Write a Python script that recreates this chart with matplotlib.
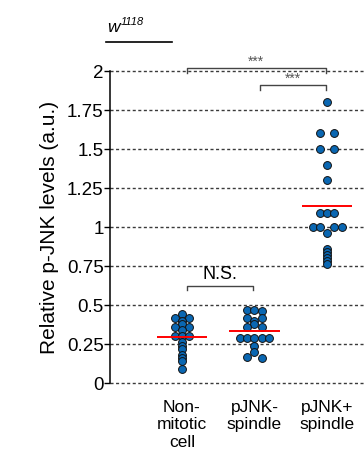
import numpy as np
import matplotlib
matplotlib.use('Agg')
import matplotlib.pyplot as plt

plt.rcParams['font.family'] = ['Liberation Sans', 'DejaVu Sans']

# data (relative p-JNK levels, a.u.)
categories = ['Non-\nmitotic\ncell', 'pJNK-\nspindle', 'pJNK+\nspindle']
non_mitotic = [0.44, 0.42, 0.42, 0.40, 0.38, 0.36, 0.36, 0.34, 0.30, 0.30, 0.30,
               0.26, 0.24, 0.22, 0.18, 0.16, 0.14, 0.09]
pjnk_neg = [0.47, 0.47, 0.46, 0.42, 0.42, 0.40, 0.38, 0.36, 0.36,
            0.29, 0.29, 0.29, 0.29, 0.29, 0.24, 0.20, 0.17, 0.16]
pjnk_pos = [1.80, 1.60, 1.60, 1.50, 1.50, 1.40, 1.30, 1.09, 1.09, 1.09,
            1.00, 1.00, 1.00, 1.00, 0.963, 0.86, 0.84, 0.82, 0.80, 0.78, 0.76]
groups = [non_mitotic, pjnk_neg, pjnk_pos]
yticks = [0, 0.25, 0.5, 0.75, 1, 1.25, 1.5, 1.75, 2]
yticklabels = ['0', '0.25', '0.5', '0.75', '1', '1.25', '1.5', '1.75', '2']
# comparisons: (group a, group b, label)
comparisons = [(0, 2, '***'), (1, 2, '***'), (0, 1, 'N.S.')]


def swarm_offsets(vals, w=0.02, d=0.1):
    # prism-like scatter: bin values, spread each bin sideways
    vals = np.asarray(vals)
    bins = np.round(vals / w).astype(int)
    offs = np.zeros(len(vals))
    for b in np.unique(bins):
        idx = np.where(bins == b)[0]
        n = len(idx)
        if n % 2:
            slots = np.arange(n) - (n - 1) / 2
        else:
            k = n // 2
            slots = np.r_[np.arange(-k, 0), np.arange(1, k + 1)]
        offs[idx] = slots * d
    return offs


fig = plt.figure(figsize=(3.64, 4.66), dpi=100)
ax = fig.add_axes([0.302, 0.178, 0.698, 0.6695])

for i, vals in enumerate(groups):
    xs = i + swarm_offsets(vals)
    ax.scatter(xs, vals, s=32, c='#0a67b2', edgecolors='#111111',
               linewidths=0.7, zorder=3)
    m = np.mean(vals)
    ax.hlines(m, i - 0.35, i + 0.35, color='#ff0000', lw=1.4, zorder=4)

ax.set_xlim(-0.993, 2.51)
ax.set_ylim(0, 2)
ax.set_yticks(yticks)
ax.set_yticklabels(yticklabels, fontsize=13.5)
for y in yticks:
    ax.axhline(y, color='#3a3a3a', lw=1, ls=(0, (2.2, 1.8)), zorder=1,
               clip_on=False)
ax.set_xticks(range(len(categories)))
ax.set_xticklabels(categories, fontsize=12.5, linespacing=1.2)
ax.tick_params(axis='x', length=0, pad=12)
ax.tick_params(axis='y', length=4, width=1, pad=0.5)
for s in ['top', 'right', 'bottom']:
    ax.spines[s].set_visible(False)
ax.spines['left'].set_linewidth(1.1)
ax.set_ylabel('Relative p-JNK levels (a.u.)', fontsize=15, labelpad=6)

# significance brackets
tops = [2.02, 1.91, 0.624]
for (a, b, lab), top in zip(comparisons, tops):
    x0, x1 = a + 0.07, b - 0.02
    ax.plot([x0, x0, x1, x1], [top - 0.03, top, top, top - 0.03],
            color='#444444', lw=1, clip_on=False, zorder=2)
    if lab == 'N.S.':
        ax.text((x0 + x1) / 2, top + 0.02, lab, ha='center', va='bottom',
                fontsize=13)
    else:
        ax.text((x0 + x1) / 2, top - 0.005, lab, ha='center', va='bottom',
                fontsize=10, color='#555555', clip_on=False, zorder=5)

# genotype label with underline
fig.text(0.293, 0.931, 'w', fontsize=12.5, style='italic', va='baseline')
fig.text(0.333, 0.946, '1118', fontsize=8, style='italic', va='baseline')
fig.add_artist(plt.Line2D([0.291, 0.4725], [0.9105, 0.9105], color='black',
                          lw=1.2, transform=fig.transFigure))

plt.savefig('out.png', dpi=100)
